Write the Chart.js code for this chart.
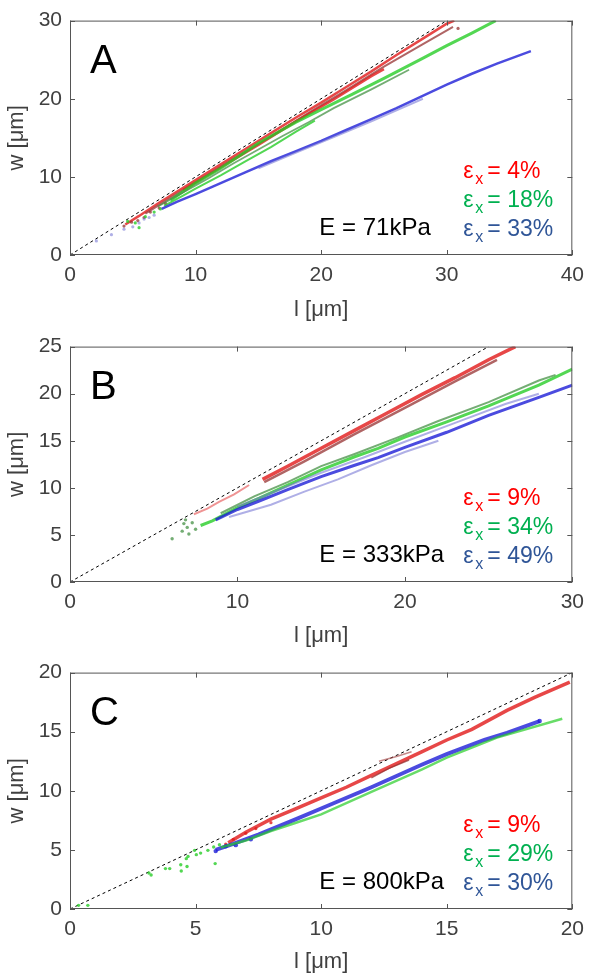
<!DOCTYPE html>
<html>
<head>
<meta charset="utf-8">
<script src="https://cdn.jsdelivr.net/npm/chart.js@4.4.1/dist/chart.umd.min.js"></script>
<style>
body { margin: 0; background: #fff; }
#wrap { position: relative; width: 592px; height: 978px; }
canvas { position: absolute; left: 0; }
</style>
</head>
<body>
<div id="wrap">
  <canvas id="cA" width="592" height="326" style="top:0px"></canvas>
  <canvas id="cB" width="592" height="326" style="top:326px"></canvas>
  <canvas id="cC" width="592" height="326" style="top:652px"></canvas>
</div>
<script>
// ---- panel labels ----
const letters = ['A', 'B', 'C'];
const moduli = ['E = 71kPa', 'E = 333kPa', 'E = 800kPa'];
const strainsA = ['4%', '18%', '33%'];
const strainsB = ['9%', '34%', '49%'];
const strainsC = ['9%', '29%', '30%'];
const legendColors = ['#ff0000', '#00b050', '#2f5597'];

// ---- panel A: l [um] vs w [um] ----
const aDiag = [[0, 0], [30, 30]];
const aRedMain = [[4.4,3.9],[5.5,5.0],[7,6.6],[8.5,8.1],[10,9.6],[12,11.6],[14,13.6],[16,15.6],[18,17.6],[20,19.5],[22,21.5],[24,23.5],[26,25.6],[28,27.6],[30,29.6],[30.6,30]];
const aRed2 = [[9,8.3],[12,11.2],[15,14.1],[18,17.1],[21,19.9],[24,22.9],[25,23.8]];
const aRedDark = [[6,5.3],[8,7.3],[10,9.3],[13,12.3],[16,15.2],[19,18.2],[22,21.1],[25,24.1],[28,26.9],[30.5,29.2]];
const aRedDots = [[4.3,3.7],[4.9,4.2],[5.4,4.4],[5.9,4.8],[6.4,5.5],[7.1,6.0],[7.6,6.6],[30.9,29.0]];
const aGreenUp = [[8,7.0],[10,9.2],[12,11.1],[15,14.3],[18,17.0],[20,18.6],[22.5,20.6],[25,22.6],[28,25.1],[30,26.8],[32,28.4],[33.9,30]];
const aGreenLow = [[7.5,6.3],[9,7.6],[10,8.5],[12,10.2],[14,12.0],[16,13.8],[18,15.8],[19.5,17.2]];
const aGreenDark = [[7,6.2],[9,8.0],[11,9.8],[13,11.7],[15,13.5],[17,15.3],[19,17.0],[21,18.8],[24,21.2],[27,23.7]];
const aGreenDots = [[5.5,3.5],[4.6,4.3],[5.2,4.1],[6.0,4.9],[6.7,5.5],[7.2,5.9]];
const aBlueMain = [[7.3,5.9],[8.5,6.8],[10,7.8],[12,9.2],[14,10.6],[16,12.0],[18,13.3],[20,14.6],[22,16.0],[24,17.4],[26,18.8],[28,20.3],[30,21.8],[32,23.2],[34,24.5],[36.7,26.1]];
const aBlue2 = [[15,11.1],[18,13.1],[21,15.1],[24,17.1],[26,18.5],[28.1,20.0]];
const aBlueDots = [[2.1,1.8],[3.3,2.6],[4.3,3.3],[5.0,3.6],[5.5,4.1],[5.9,4.6],[6.3,4.8],[6.7,5.1]];

// ---- panel B ----
const bDiag = [[0, 0], [25, 25]];
const bRedFaint = [[7.4,7.2],[8.2,7.8],[8.9,8.5],[9.8,9.3],[10.7,10.3]];
const bRedMain = [[11.5,10.9],[13,12.3],[15,14.2],[17,16.1],[19,18.0],[21,19.9],[23,21.7],[25,23.6],[26.6,25]];
const bRed2 = [[11.6,10.6],[14,12.8],[17,15.7],[20,18.5],[23,21.3],[25.5,23.6]];
const bGreenMain = [[7.8,6.0],[8.5,6.5],[10,7.9],[11.3,8.9],[13,10.3],[15,11.9],[17,13.3],[18.4,14.2],[20,15.4],[22.5,17.0],[25,18.7],[28,20.9],[30,22.6]];
const bGreen2 = [[9,7.3],[11,9.1],[13,10.6],[15,12.3],[17,13.6],[19.5,15.3],[22,17.1],[25,19.1],[28,21.4],[29,22.0]];
const bGreenDots = [[6.1,4.6],[6.7,5.4],[6.8,6.2],[7.0,5.8],[7.1,5.1],[7.3,6.3],[7.5,5.6],[6.9,6.6]];
const bBlueMain = [[8.7,6.6],[10,7.7],[11.3,8.6],[13,9.8],[15,11.2],[17,12.4],[18.4,13.2],[20,14.3],[22.5,15.9],[25,17.7],[28,19.6],[30,20.9]];
const bBlueFaint = [[9.5,6.9],[12,8.2],[14,9.6],[16,10.9],[18,12.4],[20,13.8],[22,15.0]];
const bBlue2 = [[10,8.0],[12.5,9.8],[15,11.6],[17.5,13.2],[20,14.9],[23,16.9],[26,18.9],[28,20.0]];

// ---- panel C ----
const cDiag = [[0, 0], [20, 20]];
const cRedMain = [[6.3,5.6],[7,6.5],[8,7.6],[9,8.5],[10,9.4],[11,10.3],[12,11.3],[13,12.3],[14,13.3],[15,14.3],[16,15.2],[17.4,16.8],[18.5,17.9],[19.9,19.2]];
const cRedFaint1 = [[12.0,11.1],[12.7,11.9],[13.5,12.6]];
const cRedFaint2 = [[12.3,12.5],[13.0,12.9],[13.6,13.3]];
const cRedDots = [[6.2,5.5],[6.5,5.9],[7.0,6.4],[7.4,6.8],[8,7.3]];
const cBlueMain = [[5.8,5.0],[6.5,5.5],[7.5,6.3],[9,7.6],[10,8.5],[12,10.3],[14,12.2],[15,13.1],[16.5,14.3],[17.4,14.9],[18.7,15.9]];
const cBlueDots = [[5.8,4.9],[6.2,5.3],[6.6,5.4],[7.2,5.9],[18.7,15.9]];
const cGreenMain = [[6,5.2],[7,5.8],[8,6.6],[9,7.3],[10,8.0],[12,9.9],[14,11.8],[15,12.8],[17,14.5],[19.6,16.1]];
const cGreenDots = [[0.34,0.31],[0.71,0.31],[3.14,3.05],[3.23,2.88],[3.8,3.42],[3.97,3.42],[4.43,3.22],[4.41,3.75],[4.66,3.59],[4.63,4.26],[4.7,4.45],[4.96,4.96],[5.03,4.6],[5.2,4.73],[5.49,4.96],[5.78,3.84],[5.72,5.24],[5.95,5.43]];

const RED = 'rgba(225,25,25,0.8)', RED_D = 'rgba(150,50,50,0.75)';
const GREEN = 'rgba(40,205,40,0.8)', GREEN_D = 'rgba(70,145,70,0.75)';
const BLUE = 'rgba(30,30,215,0.8)', BLUE_F = 'rgba(110,110,210,0.55)';

const FONT = '"Liberation Sans", Arial, sans-serif';
Chart.defaults.font.family = FONT;

const pts = arr => arr.map(([x, y]) => ({ x, y }));
const trace = (arr, color, w) => ({ data: pts(arr), showLine: true, borderColor: color, borderWidth: w, pointRadius: 0, clip: 0 });
const dots = (arr, color, r) => ({ data: pts(arr), showLine: false, backgroundColor: color, borderWidth: 0, pointRadius: r, clip: 0 });
const diag = arr => ({ data: pts(arr), showLine: true, borderColor: '#000', borderWidth: 1, borderDash: [3, 3], pointRadius: 0, clip: 0 });

const boxPlugin = {
  id: 'box',
  afterDatasetsDraw(chart) {
    const { ctx, chartArea: a, scales } = chart;
    ctx.save();
    ctx.strokeStyle = '#555';
    ctx.lineWidth = 1;
    ctx.strokeRect(a.left + 0.5, a.top + 0.5, a.right - a.left - 1, a.bottom - a.top - 1);
    ctx.beginPath();
    scales.x.ticks.forEach(t => {
      const px = Math.round(scales.x.getPixelForValue(t.value)) + 0.5;
      ctx.moveTo(px, a.bottom); ctx.lineTo(px, a.bottom - 5);
      ctx.moveTo(px, a.top); ctx.lineTo(px, a.top + 5);
    });
    scales.y.ticks.forEach(t => {
      const py = Math.round(scales.y.getPixelForValue(t.value)) + 0.5;
      ctx.moveTo(a.left, py); ctx.lineTo(a.left + 5, py);
      ctx.moveTo(a.right, py); ctx.lineTo(a.right - 5, py);
    });
    ctx.stroke();
    ctx.restore();
  },
  afterDraw(chart) {
    const p = chart.options.plugins.panel;
    const { ctx, chartArea: a } = chart;
    ctx.save();
    ctx.textBaseline = 'alphabetic';
    ctx.textAlign = 'left';
    ctx.fillStyle = '#000';
    ctx.font = '40px ' + FONT;
    ctx.fillText(p.letter, a.left + 20, a.top + 52);
    ctx.font = '24px ' + FONT;
    ctx.fillText(p.modulus, a.right - 253, a.bottom - 20);
    p.strains.forEach((s, i) => {
      const x = a.right - 109, y = a.bottom - 77 + i * 29;
      ctx.fillStyle = legendColors[i];
      ctx.font = '23px ' + FONT;
      ctx.fillText('\u03b5', x, y);
      ctx.font = '16px ' + FONT;
      ctx.fillText('x', x + 12, y + 6);
      ctx.font = '23px ' + FONT;
      ctx.fillText('= ' + s, x + 24, y);
    });
    ctx.restore();
  }
};

function makePanel(id, padTop, axisH, xMax, xStep, yMax, yStep, datasets, letter, modulus, strains) {
  return new Chart(document.getElementById(id), {
    type: 'scatter',
    data: { datasets },
    options: {
      responsive: false,
      animation: false,
      layout: { padding: { top: padTop, right: 17, left: 0, bottom: 0 } },
      plugins: {
        legend: { display: false },
        tooltip: { enabled: false },
        panel: { letter, modulus, strains }
      },
      scales: {
        x: {
          type: 'linear', min: 0, max: xMax,
          grid: { display: false, drawTicks: false },
          border: { display: false },
          ticks: { stepSize: xStep, color: '#404040', font: { size: 21 }, padding: 8 },
          title: { display: true, text: 'l [\u03bcm]', color: '#404040', font: { size: 22 }, padding: { top: 0, bottom: 3 } },
          afterFit: s => { s.height = axisH; }
        },
        y: {
          type: 'linear', min: 0, max: yMax,
          grid: { display: false, drawTicks: false },
          border: { display: false },
          ticks: { stepSize: yStep, color: '#404040', font: { size: 21 }, padding: 8 },
          title: { display: true, text: 'w [\u03bcm]', color: '#404040', font: { size: 22 }, padding: { top: 4, bottom: 0 } },
          afterFit: s => { s.width = 70; }
        }
      }
    },
    plugins: [boxPlugin]
  });
}

makePanel('cA', 15, 71, 40, 10, 30, 10, [
  dots(aBlueDots, BLUE_F, 1.6),
  trace(aBlue2, BLUE_F, 2),
  trace(aBlueMain, BLUE, 2.5),
  dots(aGreenDots, GREEN, 1.6),
  trace(aGreenLow, GREEN, 2),
  trace(aGreenDark, GREEN_D, 1.8),
  trace(aGreenUp, GREEN, 3),
  dots(aRedDots, RED_D, 1.6),
  trace(aRed2, RED, 2.5),
  trace(aRedDark, RED_D, 2),
  trace(aRedMain, RED, 2.5),
  diag(aDiag)
], letters[0], moduli[0], strainsA);

makePanel('cB', 17, 70, 30, 10, 25, 5, [
  trace(bBlueFaint, BLUE_F, 2),
  trace(bBlue2, BLUE_F, 2),
  trace(bBlueMain, BLUE, 3),
  dots(bGreenDots, GREEN_D, 1.7),
  trace(bGreen2, GREEN_D, 2),
  trace(bGreenMain, GREEN, 3),
  trace(bRedFaint, 'rgba(225,60,60,0.55)', 2),
  trace(bRed2, RED_D, 2.5),
  trace(bRedMain, RED, 3.5),
  diag(bDiag)
], letters[1], moduli[1], strainsB);

makePanel('cC', 19, 69, 20, 5, 20, 5, [
  dots(cGreenDots, GREEN, 1.7),
  trace(cGreenMain, 'rgba(40,205,40,0.7)', 2.5),
  dots(cBlueDots, BLUE, 2.2),
  trace(cBlueMain, BLUE, 4),
  dots(cRedDots, RED, 1.6),
  trace(cRedFaint1, RED_D, 1.5),
  trace(cRedFaint2, 'rgba(160,60,60,0.6)', 1.5),
  trace(cRedMain, RED, 3.5),
  diag(cDiag)
], letters[2], moduli[2], strainsC);
</script>
</body>
</html>
